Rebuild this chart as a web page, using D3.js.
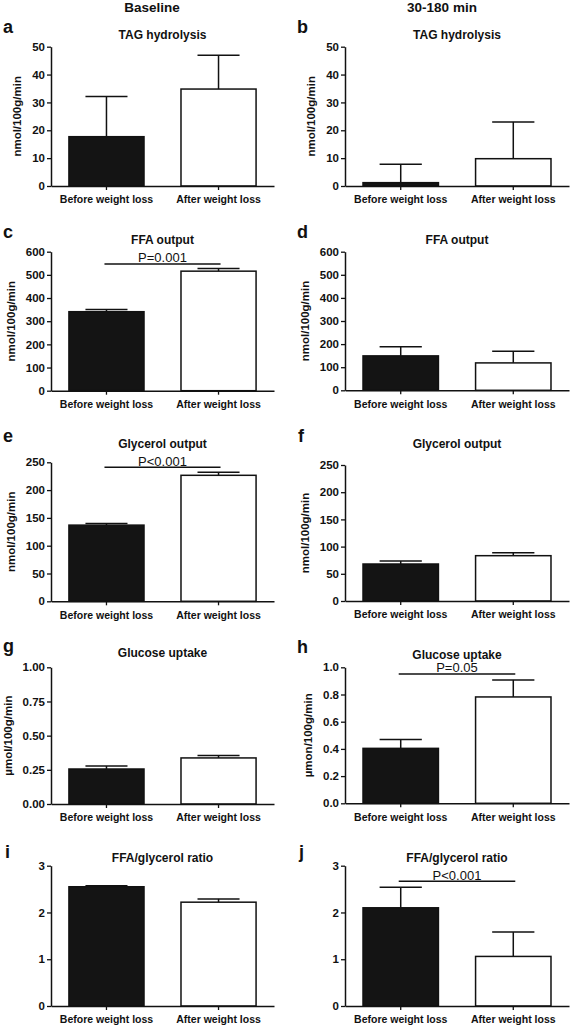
<!DOCTYPE html>
<html>
<head>
<meta charset="utf-8">
<script src="https://cdn.jsdelivr.net/npm/d3@7"></script>
<style>
  html, body { margin: 0; padding: 0; background: #fff; }
  svg { display: block; font-family: "Liberation Sans", Arial, sans-serif; }
</style>
</head>
<body>
<svg id="chart" width="572" height="1028"></svg>
<script>
// ---------------- data ----------------
const categories = ["Before weight loss", "After weight loss"];
const columnHeaders = ["Baseline", "30-180 min"];
const panelLetters = ["a", "b", "c", "d", "e", "f", "g", "h", "i", "j"];
const panelTitles = ["TAG hydrolysis", "TAG hydrolysis", "FFA output", "FFA output",
  "Glycerol output", "Glycerol output", "Glucose uptake", "Glucose uptake",
  "FFA/glycerol ratio", "FFA/glycerol ratio"];
const yAxisLabels = ["nmol/100g/min", "nmol/100g/min", "nmol/100g/min", "nmol/100g/min",
  "nmol/100g/min", "nmol/100g/min", "\u00b5mol/100g/min", "\u00b5mon/100g/min", "", ""];
const yMax = [50, 50, 600, 600, 250, 250, 1.0, 1.0, 3, 3];
const yTickValues = [
  [0, 10, 20, 30, 40, 50], [0, 10, 20, 30, 40, 50],
  [0, 100, 200, 300, 400, 500, 600], [0, 100, 200, 300, 400, 500, 600],
  [0, 50, 100, 150, 200, 250], [0, 50, 100, 150, 200, 250],
  [0, 0.25, 0.5, 0.75, 1.0], [0, 0.2, 0.4, 0.6, 0.8, 1.0],
  [0, 1, 2, 3], [0, 1, 2, 3]
];
const yTickFormats = ["d", "d", "d", "d", "d", "d", ".2f", ".1f", "d", "d"];
const meanBefore = [17.7, 1.2, 341, 149, 137, 68, 0.256, 0.404, 2.55, 2.10];
const meanAfter  = [34.8, 9.8, 516, 118.6, 226.6, 83.3, 0.337, 0.782, 2.22, 1.06];
const semBefore  = [14.4, 6.6, 10, 39, 3, 5.5, 0.022, 0.066, 0.02, 0.44];
const semAfter   = [12.1, 13.2, 12, 50.4, 5.4, 5.5, 0.017, 0.125, 0.07, 0.52];
const pLabels    = [null, null, "P=0.001", null, "P<0.001", null, null, "P=0.05", null, "P<0.001"];
const pLevels    = [null, null, 547, null, 241, null, null, 0.951, null, 2.67];

// ---------------- layout ----------------
const colX = [[51, 274], [345, 569]];
const panelY = [
  [46.7, 186], [46.7, 186],
  [251.7, 390.7], [251.7, 390.3],
  [462.3, 601.3], [465, 601],
  [667.3, 804], [667.3, 803.3],
  [865.7, 1006], [865.7, 1006]
];
const titleY = [39, 39, 244, 244, 448, 448, 657, 659, 862, 862];
const letterY = [33, 33, 238, 238, 442, 442, 652, 653, 858, 858];
const letterX = [3, 297, 3, 297, 3, 298, 3, 297, 5, 299];
const headerPos = [[152, 12], [442, 12]];

const svg = d3.select("#chart");
const ink = "#111";
const fontFam = "'Liberation Sans', Arial, sans-serif";

columnHeaders.forEach((h, i) => {
  svg.append("text").attr("x", headerPos[i][0]).attr("y", headerPos[i][1])
    .attr("text-anchor", "middle").attr("font-weight", "bold").attr("font-size", "13.5px")
    .attr("fill", ink).text(h);
});

panelLetters.forEach((letter, i) => {
  const col = i % 2;
  const [x0, x1] = colX[col];
  const [yTop, yBot] = panelY[i];
  const g = svg.append("g");

  const x = d3.scaleBand().domain(categories).range([x0, x1])
    .paddingInner(0.33).paddingOuter(0.16);
  const y = d3.scaleLinear().domain([0, yMax[i]]).range([yBot, yTop]);

  const vals = [meanBefore[i], meanAfter[i]];
  const sems = [semBefore[i], semAfter[i]];
  const fills = ["#141414", "#ffffff"];
  const capHalf = x.bandwidth() * 0.28;

  // error bars (upward only)
  categories.forEach((c, k) => {
    const cx = x(c) + x.bandwidth() / 2;
    g.append("line").attr("x1", cx).attr("x2", cx)
      .attr("y1", y(vals[k])).attr("y2", y(vals[k] + sems[k]))
      .attr("stroke", ink).attr("stroke-width", 1.5);
    g.append("line").attr("x1", cx - capHalf).attr("x2", cx + capHalf)
      .attr("y1", y(vals[k] + sems[k])).attr("y2", y(vals[k] + sems[k]))
      .attr("stroke", ink).attr("stroke-width", 1.5);
  });

  g.selectAll("rect.bar").data(categories).join("rect").attr("class", "bar")
    .attr("x", c => x(c))
    .attr("width", x.bandwidth())
    .attr("y", (c, k) => y(vals[k]))
    .attr("height", (c, k) => y(0) - y(vals[k]))
    .attr("fill", (c, k) => fills[k])
    .attr("stroke", ink).attr("stroke-width", 1.5);

  // axes
  const yAxis = d3.axisLeft(y).tickValues(yTickValues[i])
    .tickFormat(d3.format(yTickFormats[i])).tickSize(4).tickSizeOuter(0).tickPadding(2);
  const ya = g.append("g").attr("transform", `translate(${x0},0)`).call(yAxis);
  const xAxis = d3.axisBottom(x).tickSize(4).tickSizeOuter(0).tickPadding(6);
  const xa = g.append("g").attr("transform", `translate(0,${yBot})`).call(xAxis);
  [ya, xa].forEach(a => {
    a.select(".domain").attr("stroke", ink).attr("stroke-width", 1.5);
    a.selectAll(".tick line").attr("stroke", ink).attr("stroke-width", 1.3);
    a.selectAll(".tick text").attr("fill", ink).attr("font-weight", "bold")
      .attr("font-family", fontFam);
  });
  ya.selectAll(".tick text").attr("font-size", "11.5px");
  xa.selectAll(".tick text").attr("font-size", "10.5px");

  // y axis label
  if (yAxisLabels[i]) {
    const bb = ya.node().getBBox();
    const lx = x0 + bb.x - 15;
    const ly = (yTop + yBot) / 2;
    g.append("text").attr("transform", `translate(${lx},${ly}) rotate(-90)`)
      .attr("text-anchor", "middle").attr("dominant-baseline", "central")
      .attr("font-weight", "bold").attr("font-size", "11.5px").attr("fill", ink)
      .text(yAxisLabels[i]);
  }

  // title
  g.append("text").attr("x", (x0 + x1) / 2).attr("y", titleY[i])
    .attr("text-anchor", "middle").attr("font-weight", "bold").attr("font-size", "12px")
    .attr("fill", ink).text(panelTitles[i]);

  // panel letter
  g.append("text").attr("x", letterX[i]).attr("y", letterY[i])
    .attr("font-weight", "bold").attr("font-size", "18px").attr("fill", ink).text(letter);

  // significance
  if (pLabels[i]) {
    const c1 = x(categories[0]) + x.bandwidth() / 2 - 2;
    const c2 = x(categories[1]) + x.bandwidth() / 2 + 2;
    const ly = y(pLevels[i]);
    g.append("line").attr("x1", c1).attr("x2", c2).attr("y1", ly).attr("y2", ly)
      .attr("stroke", ink).attr("stroke-width", 1.5);
    g.append("text").attr("x", (c1 + c2) / 2).attr("y", ly - 1.5)
      .attr("text-anchor", "middle").attr("font-size", "13px").attr("fill", ink)
      .text(pLabels[i]);
  }
});
</script>
</body>
</html>
